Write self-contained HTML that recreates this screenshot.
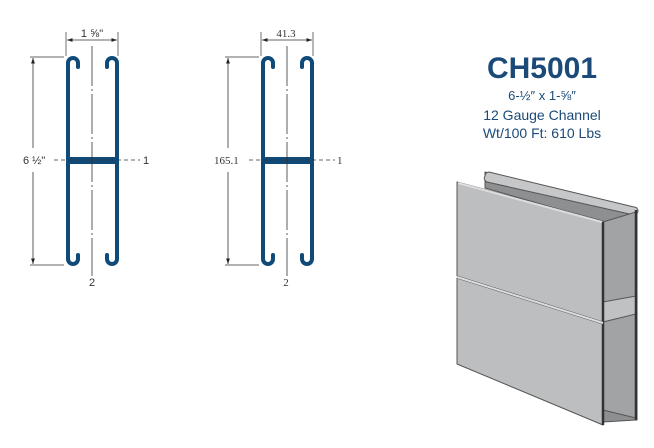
<!DOCTYPE html>
<html><head><style>
html,body{margin:0;padding:0;background:#fff;}
svg{display:block;}
</style></head><body>
<svg width="654" height="448" viewBox="0 0 654 448" xmlns="http://www.w3.org/2000/svg">
<defs>
<marker id="ar" viewBox="0 0 10 10" refX="10" refY="5" markerWidth="7" markerHeight="7" orient="auto-start-reverse"><path d="M0,1.5 L10,5 L0,8.5 z" fill="#222"/></marker>
<g id="ch">
  <g fill="none" stroke="#0f4a78" stroke-width="4" stroke-linecap="round">
    <path d="M68,160 V63 A5,5 0 0 1 78,63 V67"/>
    <path d="M117,160 V63 A5,5 0 0 0 107,63 V67"/>
    <path d="M68,162 V259 A5,5 0 0 0 78,259 V255"/>
    <path d="M117,162 V259 A5,5 0 0 1 107,259 V255"/>
  </g>
  <rect x="67" y="157" width="51" height="7" fill="#0f4a78"/>
  <line x1="92" y1="46" x2="92" y2="276" stroke="#333" stroke-width="0.8" stroke-dasharray="40,3,2,3"/>
  <line x1="54" y1="160" x2="140" y2="160" stroke="#333" stroke-width="0.8" stroke-dasharray="4,3"/>
  <line x1="66" y1="32" x2="66" y2="56" stroke="#333" stroke-width="0.7"/>
  <line x1="118" y1="32" x2="118" y2="56" stroke="#333" stroke-width="0.7"/>
  <line x1="67" y1="40" x2="117" y2="40" stroke="#333" stroke-width="0.8" marker-start="url(#ar)" marker-end="url(#ar)"/>
  <line x1="30" y1="57" x2="64" y2="57" stroke="#333" stroke-width="0.7"/>
  <line x1="30" y1="265" x2="64" y2="265" stroke="#333" stroke-width="0.7"/>
  <line x1="33" y1="58" x2="33" y2="148" stroke="#333" stroke-width="0.8" marker-start="url(#ar)"/>
  <line x1="33" y1="172" x2="33" y2="264" stroke="#333" stroke-width="0.8" marker-end="url(#ar)"/>
</g>
</defs>
<use href="#ch"/>
<use href="#ch" transform="translate(195,0)"/>
<g font-family="Liberation Sans, sans-serif" font-size="11" fill="#333">
  <text x="92" y="37" text-anchor="middle">1 ⅝"</text>
  <text x="23" y="164">6 ½"</text>
  <text x="143" y="164">1</text>
  <text x="92" y="286" text-anchor="middle">2</text>
</g>
<g font-family="Liberation Serif, serif" font-size="11" fill="#333">
  <text x="286" y="37" text-anchor="middle">41.3</text>
  <text x="214" y="164">165.1</text>
  <text x="337" y="164">1</text>
  <text x="286" y="286" text-anchor="middle">2</text>
</g>
<g font-family="Liberation Sans, sans-serif" fill="#1b4a78" text-anchor="middle">
  <text x="542" y="78" font-size="30" font-weight="bold">CH5001</text>
  <text x="542" y="100" font-size="13">6-½″ x 1-⅝″</text>
  <text x="542" y="120" font-size="14">12 Gauge Channel</text>
  <text x="542" y="138" font-size="14">Wt/100 Ft: 610 Lbs</text>
</g>
<g stroke="#555" stroke-width="1" stroke-linejoin="round">
  <polygon points="485,172 637,208 637,420 603,422 603,222 485,188" fill="#8e8f91"/>
  <path d="M485,176 A4,4 0 0 1 489,172 L634,207 A4,4 0 0 1 634,215 L487,182 A4,4 0 0 1 485,176 z" fill="#c6c7c9"/>
  <polygon points="603,222 636,212 636,298 603,302" fill="#a2a3a5"/>
  <polygon points="603,322 636,312 636,418 603,410" fill="#a2a3a5"/>
  <polygon points="603,302 636,296 636,314 603,322" fill="#c0c1c3"/>
  <polygon points="457,182 603,221 603,322 457,276" fill="#bdbec0"/>
  <polygon points="457,278 603,324 603,425 457,364" fill="#bdbec0"/>
  <line x1="603" y1="222" x2="603" y2="425" stroke="#333" stroke-width="2.5"/>
  <line x1="636" y1="210" x2="636" y2="420" stroke="#333" stroke-width="2.5"/>
  <line x1="457" y1="277" x2="603" y2="323" stroke="#ddd" stroke-width="2"/>
  <line x1="458" y1="183" x2="602" y2="222" stroke="#ddd" stroke-width="2"/>
</g>
</svg>
</body></html>
